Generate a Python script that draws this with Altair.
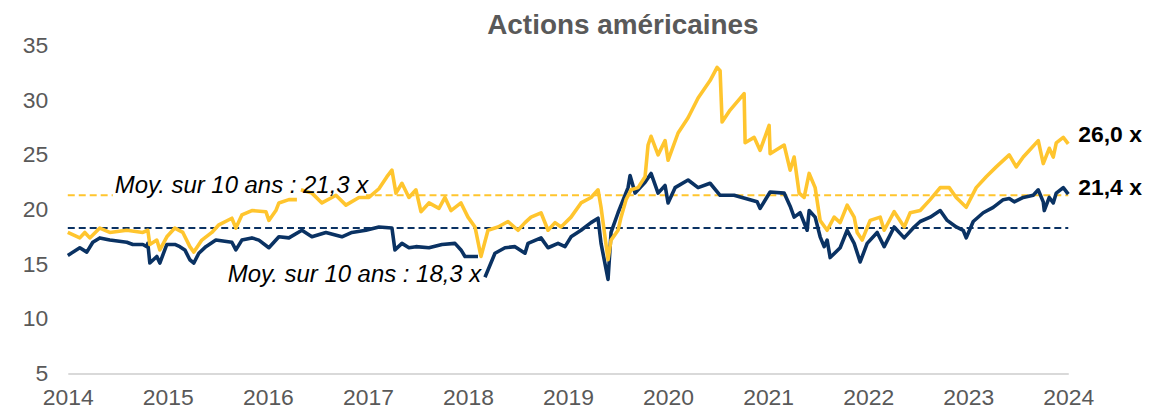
import altair as alt
import pandas as pd

# ---- data (decimal years, P/E multiples) ----
navy_t = [2014.00, 2014.12, 2014.19, 2014.25, 2014.32, 2014.42, 2014.59, 2014.65, 2014.75, 2014.79,
          2014.80, 2014.82, 2014.89, 2014.92, 2014.99, 2015.07, 2015.12, 2015.17, 2015.22, 2015.26,
          2015.31, 2015.38, 2015.48, 2015.64, 2015.68, 2015.74, 2015.84, 2015.91, 2016.01, 2016.11,
          2016.21, 2016.34, 2016.44, 2016.58, 2016.74, 2016.84, 2016.98, 2017.11, 2017.24, 2017.27,
          2017.34, 2017.41, 2017.48, 2017.61, 2017.74, 2017.87, 2017.93, 2017.97, 2018.10, 2018.17,
          2018.27, 2018.37, 2018.47, 2018.57, 2018.60, 2018.73, 2018.80, 2018.90, 2018.97, 2019.03,
          2019.13, 2019.23, 2019.30, 2019.33, 2019.40, 2019.43, 2019.50, 2019.60, 2019.62, 2019.67,
          2019.77, 2019.83, 2019.90, 2019.97, 2020.00, 2020.07, 2020.20, 2020.30, 2020.42, 2020.52,
          2020.66, 2020.89, 2020.92, 2021.02, 2021.16, 2021.22, 2021.26, 2021.32, 2021.39, 2021.41,
          2021.47, 2021.52, 2021.56, 2021.59, 2021.62, 2021.72, 2021.79, 2021.86, 2021.92, 2021.99,
          2022.09, 2022.16, 2022.26, 2022.36, 2022.46, 2022.52, 2022.62, 2022.72, 2022.79, 2022.88,
          2022.95, 2022.98, 2023.05, 2023.15, 2023.25, 2023.35, 2023.41, 2023.46, 2023.55, 2023.65,
          2023.70, 2023.75, 2023.76, 2023.81, 2023.85, 2023.88, 2023.95, 2024.00]
navy_v = [15.8, 16.5, 16.1, 17.0, 17.4, 17.2, 17.0, 16.8, 16.8, 16.6,
          16.9, 15.1, 15.7, 15.1, 16.8, 16.8, 16.6, 16.3, 15.4, 15.1,
          16.0, 16.6, 17.2, 17.0, 16.3, 17.2, 17.4, 17.2, 16.5, 17.5,
          17.4, 18.1, 17.5, 17.9, 17.5, 17.9, 18.1, 18.4, 18.3, 16.3,
          16.9, 16.5, 16.6, 16.5, 16.8, 16.9, 16.3, 15.7, 15.7, 13.8,
          16.0, 16.5, 16.6, 16.0, 16.9, 17.4, 16.5, 16.9, 16.6, 17.5,
          18.1, 18.8, 19.2, 16.9, 13.6, 17.9, 19.7, 22.0, 23.1, 21.5,
          22.5, 23.3, 21.5, 22.2, 20.6, 22.0, 22.7, 22.0, 22.4, 21.3,
          21.3, 20.7, 20.1, 21.6, 21.5, 20.3, 19.3, 19.7, 18.1, 19.9,
          19.3, 17.5, 16.6, 17.2, 15.6, 16.5, 18.1, 16.9, 15.2, 16.9,
          17.9, 16.6, 18.4, 17.4, 18.4, 18.9, 19.3, 19.9, 19.0, 18.4,
          18.1, 17.4, 18.9, 19.7, 20.2, 20.9, 21.0, 20.7, 21.1, 21.3,
          21.8, 20.7, 19.9, 21.1, 20.6, 21.5, 22.0, 21.4]
navy_gap_after = 2018.10

yellow_t = [2014.00, 2014.12, 2014.17, 2014.22, 2014.32, 2014.42, 2014.59, 2014.75, 2014.80, 2014.82,
            2014.89, 2014.92, 2014.99, 2015.07, 2015.15, 2015.22, 2015.26, 2015.34, 2015.44, 2015.51,
            2015.64, 2015.68, 2015.74, 2015.84, 2015.98, 2016.01, 2016.08, 2016.11, 2016.21, 2016.29,
            2016.33, 2016.44, 2016.54, 2016.64, 2016.68, 2016.78, 2016.91, 2017.01, 2017.11, 2017.19,
            2017.24, 2017.28, 2017.34, 2017.41, 2017.48, 2017.53, 2017.61, 2017.71, 2017.77, 2017.83,
            2017.93, 2018.00, 2018.07, 2018.13, 2018.20, 2018.30, 2018.40, 2018.50, 2018.57, 2018.63,
            2018.73, 2018.80, 2018.87, 2018.93, 2019.03, 2019.13, 2019.23, 2019.30, 2019.33, 2019.40,
            2019.43, 2019.50, 2019.53, 2019.58, 2019.63, 2019.70, 2019.77, 2019.80, 2019.83, 2019.90,
            2019.97, 2020.00, 2020.10, 2020.20, 2020.30, 2020.42, 2020.49, 2020.52, 2020.54, 2020.62,
            2020.76, 2020.77, 2020.86, 2020.92, 2021.01, 2021.02, 2021.16, 2021.22, 2021.26, 2021.31,
            2021.36, 2021.41, 2021.47, 2021.52, 2021.59, 2021.66, 2021.72, 2021.79, 2021.86, 2021.89,
            2021.94, 2022.02, 2022.12, 2022.16, 2022.26, 2022.36, 2022.42, 2022.52, 2022.62, 2022.72,
            2022.81, 2022.88, 2022.98, 2023.08, 2023.18, 2023.28, 2023.41, 2023.48, 2023.55, 2023.61,
            2023.70, 2023.75, 2023.81, 2023.85, 2023.88, 2023.95, 2024.00]
yellow_v = [17.9, 17.4, 17.9, 17.4, 18.3, 17.9, 18.1, 17.9, 18.1, 16.8,
            17.2, 16.3, 17.5, 18.3, 17.9, 16.6, 16.1, 17.2, 17.9, 18.6,
            19.2, 18.3, 19.5, 19.9, 19.8, 19.0, 19.9, 20.6, 20.9, 20.9,
            21.8, 21.5, 20.6, 21.1, 21.3, 20.4, 21.1, 21.1, 21.9, 23.0,
            23.6, 21.5, 22.4, 21.1, 21.8, 19.8, 20.6, 20.1, 21.1, 19.9,
            20.6, 19.3, 18.4, 15.7, 18.1, 18.4, 18.9, 18.1, 18.8, 19.3,
            19.7, 18.1, 18.8, 18.4, 19.3, 20.6, 21.1, 21.8, 20.2, 15.4,
            17.2, 18.1, 19.3, 20.9, 21.8, 22.0, 23.0, 25.9, 26.7, 25.0,
            26.3, 24.5, 27.0, 28.4, 30.2, 31.8, 33.0, 32.7, 28.0, 29.1,
            30.6, 26.1, 26.6, 25.4, 27.7, 25.1, 25.9, 23.6, 24.8, 21.5,
            21.1, 23.3, 22.0, 19.0, 18.1, 19.3, 18.8, 20.4, 19.3, 17.9,
            17.2, 19.0, 19.3, 18.1, 19.8, 18.4, 19.7, 19.9, 20.9, 22.0,
            22.0, 21.1, 20.2, 22.0, 23.0, 23.9, 25.0, 23.9, 24.8, 25.4,
            26.3, 24.2, 25.6, 24.8, 26.1, 26.6, 26.0]
yellow_gap_after = 2016.29

avg_values = [21.3, 18.3]
avg_series = ["yellow", "navy"]
year_ticks = list(range(2014, 2025))
y_ticks = [5, 10, 15, 20, 25, 30, 35]

annot_text = ["Moy. sur 10 ans : 21,3 x", "Moy. sur 10 ans : 18,3 x"]
annot_x = [2014.47, 2015.60]
annot_y = [21.5, 13.4]

end_text = ["26,0 x", "21,4 x"]
end_y = [26.8, 22.0]

YELLOW = "#FFC52E"
NAVY = "#0A3263"
GREY = "#595959"
FONT = "Liberation Sans"

# ---- tables ----
rows = []
for t, v in zip(navy_t, navy_v):
    rows.append({"t": t, "v": v, "series": "navy", "seg": "navy_b" if t > navy_gap_after else "navy_a"})
for t, v in zip(yellow_t, yellow_v):
    rows.append({"t": t, "v": v, "series": "yellow", "seg": "yellow_b" if t > yellow_gap_after else "yellow_a"})
df = pd.DataFrame(rows)

avg_df = pd.DataFrame({"v": avg_values, "series": avg_series, "t0": [2014] * 2, "t1": [2024] * 2})
annot_df = pd.DataFrame({"t": annot_x, "v": annot_y, "label": annot_text})
end_df = pd.DataFrame({"t": [2024, 2024], "v": end_y, "label": end_text})
box_df = pd.DataFrame({"t0": [annot_x[0] - 0.02], "t1": [2016.98], "v0": [21.0], "v1": [23.0]})

xscale = alt.Scale(domain=[2014, 2024], nice=False, zero=False)
yscale = alt.Scale(domain=[5, 35], nice=False, zero=False)
cscale = alt.Scale(domain=["yellow", "navy"], range=[YELLOW, NAVY])

xaxis = alt.Axis(values=year_ticks, format="d", title=None, grid=False, ticks=False,
                 labelFont=FONT, labelFontSize=23, labelColor=GREY, labelFlush=False,
                 labelOverlap=False, labelPadding=13, domainColor="#D9D9D9", domainWidth=2)
yaxis = alt.Axis(values=y_ticks, title=None, grid=False, ticks=False, domain=False,
                 labelFont=FONT, labelFontSize=23, labelColor=GREY, labelFlush=False,
                 labelOverlap=False, labelPadding=20)

base_x = alt.X("t:Q", scale=xscale, axis=xaxis)
base_y = alt.Y("v:Q", scale=yscale, axis=yaxis)

avg_rules = alt.Chart(avg_df).mark_rule(strokeWidth=2, strokeDash=[7, 4]).encode(
    x=alt.X("t0:Q", scale=xscale, axis=xaxis), x2="t1:Q",
    y=alt.Y("v:Q", scale=yscale, axis=yaxis),
    color=alt.Color("series:N", scale=cscale, legend=None),
)

box = alt.Chart(box_df).mark_rect(color="white").encode(
    x=alt.X("t0:Q", scale=xscale), x2="t1:Q",
    y=alt.Y("v0:Q", scale=yscale), y2="v1:Q",
)

navy_line = alt.Chart(df[df.series == "navy"]).mark_line(strokeWidth=3.6, strokeJoin="round").encode(
    x=base_x, y=base_y,
    color=alt.Color("series:N", scale=cscale, legend=None),
    detail="seg:N",
)
yellow_line = alt.Chart(df[df.series == "yellow"]).mark_line(strokeWidth=3.6, strokeJoin="round").encode(
    x=base_x, y=base_y,
    color=alt.Color("series:N", scale=cscale, legend=None),
    detail="seg:N",
)

annots = alt.Chart(annot_df).mark_text(
    align="left", baseline="alphabetic", font=FONT, fontSize=24, fontStyle="italic", color="black"
).encode(x=alt.X("t:Q", scale=xscale), y=alt.Y("v:Q", scale=yscale), text="label:N")

ends = alt.Chart(end_df).mark_text(
    align="left", baseline="middle", font=FONT, fontSize=23, fontWeight="bold", color="black", dx=10
).encode(x=alt.X("t:Q", scale=xscale), y=alt.Y("v:Q", scale=yscale), text="label:N")

chart = alt.layer(avg_rules, box, navy_line, yellow_line, annots, ends).properties(
    width=1004, height=329,
    title=alt.TitleParams("Actions américaines", font=FONT, fontSize=28, fontWeight="bold",
                          color=GREY, anchor="middle", dx=55, offset=-5),
    autosize=alt.AutoSizeParams(type="none"),
    padding={"left": 60, "top": 37, "right": 76, "bottom": 32},
).configure_view(stroke=None)

chart.save("out.html", embed_options={"renderer": "svg", "actions": False})
